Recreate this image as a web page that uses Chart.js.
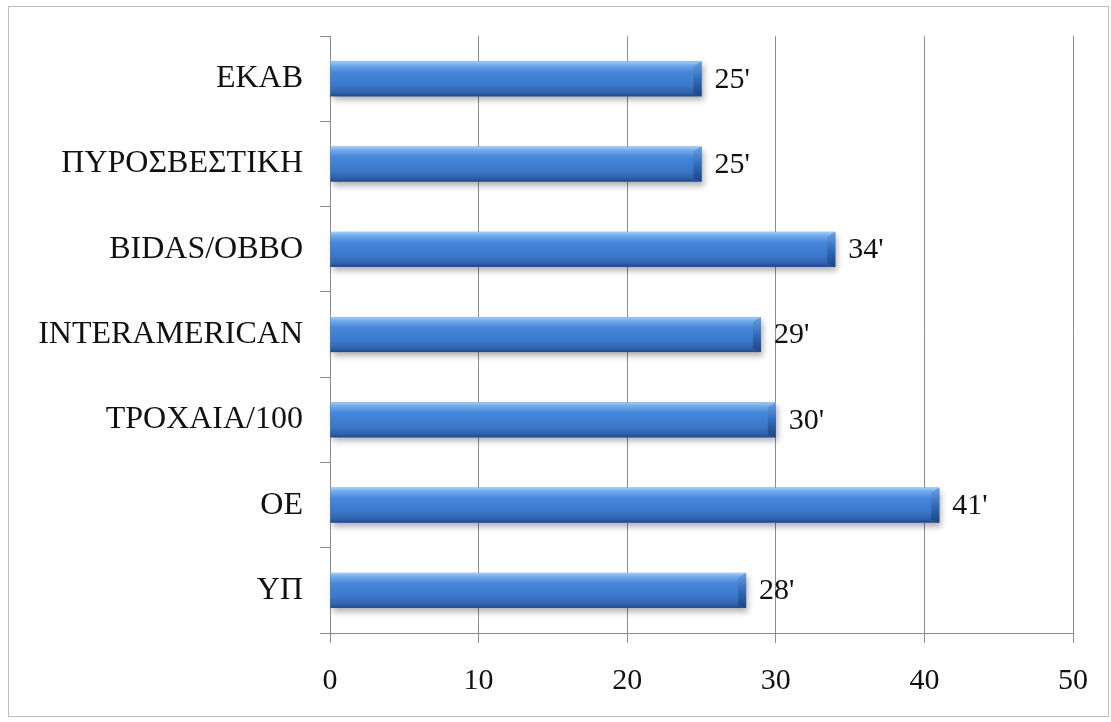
<!DOCTYPE html>
<html>
<head>
<meta charset="utf-8">
<script src="https://cdn.jsdelivr.net/npm/chart.js@4.4.1/dist/chart.umd.min.js"></script>
<style>
  html, body { margin: 0; padding: 0; background: #fff; }
  #wrap { position: relative; width: 1111px; height: 722px; }
  #frame { position: absolute; left: 8px; top: 6px; width: 1101px; height: 711px; border: 1px solid #bdbdbd; box-sizing: border-box; pointer-events: none; }
</style>
</head>
<body>
<div id="wrap">
  <canvas id="chart"></canvas>
  <div id="frame"></div>
</div>
<script>
const categories = ['ΕΚΑΒ', 'ΠΥΡΟΣΒΕΣΤΙΚΗ', 'BIDAS/OBBO', 'INTERAMERICAN', 'ΤΡΟΧΑΙΑ/100', 'ΟΕ', 'ΥΠ'];
const minutes = [25, 25, 34, 29, 30, 41, 28];
const valueLabels = ["25'", "25'", "34'", "29'", "30'", "41'", "28'"];
const xTicks = [0, 10, 20, 30, 40, 50];

const serif = '"Liberation Serif", "DejaVu Serif", serif';
const gridGray = '#8c8c8c';

// cylinder-like fill, value labels and a soft shadow drawn over Chart.js' own bar elements
const barLook = {
  id: 'barLook',
  beforeDatasetsDraw(chart) {
    const ctx = chart.ctx;
    const bars = chart.getDatasetMeta(0).data;
    ctx.save();
    ctx.shadowColor = 'rgba(0,0,0,0.3)';
    ctx.shadowBlur = 6;
    ctx.shadowOffsetX = 2;
    ctx.shadowOffsetY = 4;
    ctx.fillStyle = '#3a74c4';
    bars.forEach(b => {
      const p = b.getProps(['x', 'y', 'base', 'height'], true);
      ctx.fillRect(p.base, p.y - p.height / 2, p.x - p.base, p.height);
    });
    ctx.restore();
  },
  afterDatasetsDraw(chart) {
    const ctx = chart.ctx;
    const bars = chart.getDatasetMeta(0).data;
    ctx.save();
    bars.forEach((b, i) => {
      const p = b.getProps(['x', 'y', 'base', 'height'], true);
      const top = p.y - p.height / 2;
      const h = p.height;
      const g = ctx.createLinearGradient(0, top, 0, top + h);
      g.addColorStop(0, '#a4cdf5');
      g.addColorStop(0.1, '#73aced');
      g.addColorStop(0.3, '#4687db');
      g.addColorStop(0.7, '#3a77c8');
      g.addColorStop(0.9, '#2f62ac');
      g.addColorStop(1, '#1f4785');
      ctx.fillStyle = g;
      ctx.fillRect(p.base, top, p.x - p.base, h);
      // bevelled right cap
      const cap = 8;
      const cg = ctx.createLinearGradient(0, top, 0, top + h);
      cg.addColorStop(0, '#6a9fe0');
      cg.addColorStop(0.5, '#336cba');
      cg.addColorStop(1, '#1d4380');
      ctx.fillStyle = cg;
      ctx.beginPath();
      ctx.moveTo(p.x - cap, top + cap * 0.6);
      ctx.lineTo(p.x, top);
      ctx.lineTo(p.x, top + h);
      ctx.lineTo(p.x - cap, top + h - cap * 0.4);
      ctx.closePath();
      ctx.fill();

      ctx.fillStyle = '#111';
      ctx.font = '30px ' + serif;
      ctx.textAlign = 'left';
      ctx.textBaseline = 'middle';
      ctx.fillText(valueLabels[i], p.x + 13, p.y + 1);
    });
    ctx.restore();
  }
};

const ctx = document.getElementById('chart').getContext('2d');
const chart = new Chart(ctx, {
  type: 'bar',
  data: {
    labels: categories,
    datasets: [{
      data: minutes,
      backgroundColor: 'rgba(0,0,0,0)',
      borderWidth: 0,
      categoryPercentage: 1,
      barPercentage: 0.41
    }]
  },
  options: {
    indexAxis: 'y',
    responsive: true,
    maintainAspectRatio: false,
    animation: false,
    layout: { padding: { top: 35, right: 38, left: 0, bottom: 0 } },
    plugins: {
      legend: { display: false },
      tooltip: { enabled: false }
    },
    scales: {
      x: {
        min: 0,
        max: 50,
        afterBuildTicks: scale => { scale.ticks = xTicks.map(v => ({ value: v })); },
        afterFit: scale => { scale.height = 89; },
        grid: { color: gridGray, lineWidth: 1, tickLength: 10, drawTicks: true },
        border: { color: gridGray, width: 1 },
        ticks: { color: '#111', font: { family: serif, size: 30 }, padding: 20, maxRotation: 0 }
      },
      y: {
        afterFit: scale => { scale.width = 330; },
        grid: { offset: true, drawOnChartArea: false, drawTicks: true, tickLength: 10, color: gridGray },
        border: { color: gridGray, width: 1 },
        ticks: { color: '#111', font: { family: serif, size: 32 }, padding: 17 }
      }
    }
  },
  plugins: [barLook]
});
</script>
</body>
</html>
